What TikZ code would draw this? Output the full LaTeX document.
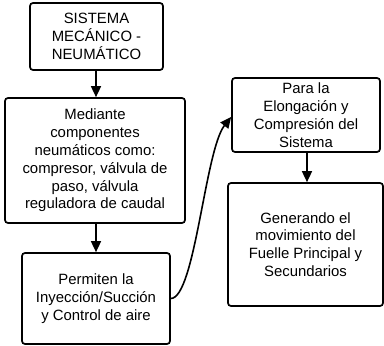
\documentclass[tikz,border=0pt]{standalone}
\usepackage{fontspec}
\setmainfont{Liberation Sans}
\usetikzlibrary{arrows.meta}
\begin{document}
\begin{tikzpicture}[x=1pt,y=-1pt,
  box/.style={draw,line width=1.7pt,rounded corners=3pt,inner sep=0pt,align=center,
    font=\fontsize{14.9}{17.8}\selectfont},
  conn/.style={line width=1.6pt,-{Triangle[length=11pt,width=10pt]}}]
\useasboundingbox (0,0) rectangle (384,346);
\node[box,minimum width=133pt,minimum height=67pt] (A) at (96.5,36.5) {SISTEMA\\MECÁNICO -\\NEUMÁTICO};
\node[box,minimum width=180pt,minimum height=125pt] (B) at (95,160.5) {Mediante\\componentes\\neumáticos como:\\compresor, válvula de\\paso, válvula\\reguladora de caudal};
\node[box,minimum width=148pt,minimum height=91pt] (C) at (96,298.5) {Permiten la\\Inyección/Succión\\y Control de aire};
\node[box,minimum width=148pt,minimum height=74pt] (D) at (306,115) {Para la\\Elongación y\\Compresión del\\Sistema};
\node[box,minimum width=155pt,minimum height=123pt] (E) at (305.5,244.5) {Generando el\\movimiento del\\Fuelle Principal y\\Secundarios};
\draw[conn] (A.south -| 96,0) -- (B.north -| 96,0);
\draw[conn] (B.south -| 96,0) -- (C.north -| 96,0);
\draw[conn] (D.south -| 307,0) -- (E.north -| 307,0);
\coordinate (Din) at (D.west |- 0,117);
\draw[conn] (C.east) .. controls (195,298) and (205,150) .. (Din);
\end{tikzpicture}
\end{document}
